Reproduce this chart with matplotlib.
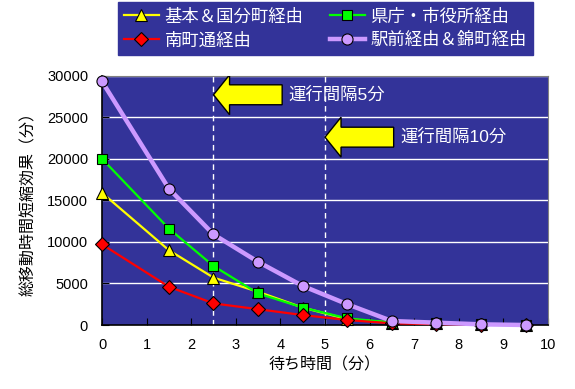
import matplotlib
matplotlib.use('Agg')
import matplotlib.pyplot as plt
from matplotlib.patches import FancyArrow

plt.rcParams['font.family'] = ['Liberation Sans', 'Noto Sans CJK JP', 'DejaVu Sans']

# Data
wait_time = [0, 1.5, 2.5, 3.5, 4.5, 5.5, 6.5, 7.5, 8.5, 9.5]
labels = ['基本＆国分町経由', '南町通経由', '県庁・市役所経由', '駅前経由＆錦町経由']
kihon = [15900, 9000, 5700, 4000, 2100, 700, 300, 200, 100, 30]
minami = [9700, 4600, 2600, 1900, 1200, 600, 200, 100, 50, 10]
kencho = [20000, 11600, 7100, 3800, 2100, 800, 300, 200, 100, 30]
ekimae = [29300, 16400, 10900, 7600, 4700, 2500, 480, 280, 80, 0]
intervals = [2.5, 5.0]
interval_texts = ['運行間隔5分', '運行間隔10分']
arrow_y = [27700, 22600]

NAVY = '#333399'

fig = plt.figure(figsize=(5.75, 3.89), dpi=100)
ax = fig.add_axes([0.1774, 0.1645, 0.7756, 0.641])
ax.set_facecolor(NAVY)

series = [
    (kihon, '#FFFF00', '^', 1.6, 8, 3),
    (minami, '#FF0000', 'D', 1.6, 7, 5),
    (kencho, '#00FF00', 's', 1.6, 7.5, 4),
    (ekimae, '#CC99FF', 'o', 3.2, 8, 6),
]
handles = []
for (vals, clr, mk, lw, ms, z), lab in zip(series, labels):
    h, = ax.plot(wait_time, vals, color=clr, linewidth=lw, marker=mk,
                 markersize=ms, markerfacecolor=clr, markeredgecolor='black',
                 markeredgewidth=0.8, zorder=z, label=lab, clip_on=False)
    handles.append(h)

# Grid and dashed interval lines
for yv in range(5000, 30001, 5000):
    ax.axhline(yv, color='white', linewidth=1, zorder=1)
for xv in intervals:
    ax.axvline(xv, color='white', linewidth=1, linestyle=(0, (4, 3)), zorder=1)

# Block arrows with labels
for xv, yv, txt in zip(intervals, arrow_y, interval_texts):
    arr = FancyArrow(xv + 1.54, yv, -1.54, 0, width=2400, head_width=4800,
                     head_length=0.36, length_includes_head=True,
                     facecolor='#FFFF00', edgecolor='black', linewidth=1, zorder=7)
    ax.add_patch(arr)
    ax.text(xv + 1.68, yv, txt, color='white', fontsize=12.5, va='center',
            ha='left', zorder=8)

ax.set_xlim(0, 10)
ax.set_ylim(0, 30000)
ax.set_xticks(range(0, 11))
ax.set_yticks(range(0, 30001, 5000))
ax.tick_params(direction='in', length=5, colors='black', labelsize=10.5,
               pad=9)
ax.tick_params(axis='y', pad=10)
for s in ['left', 'bottom']:
    ax.spines[s].set_color('black')
    ax.spines[s].set_linewidth(1.2)
for s in ['top', 'right']:
    ax.spines[s].set_color('#808080')

ax.set_xlabel('待ち時間（分）', fontsize=11.5, labelpad=4)
ax.set_ylabel('総移動時間短縮効果（分）', fontsize=11.5, labelpad=8)

leg = fig.legend(handles=handles, loc='center', bbox_to_anchor=(0.566, 0.927),
                 ncol=2, fontsize=12.5, frameon=True, fancybox=False,
                 handlelength=2.0, columnspacing=1.5, handletextpad=0.35,
                 borderpad=0.35, labelspacing=0.45)
leg.get_frame().set_facecolor(NAVY)
leg.get_frame().set_edgecolor(NAVY)
leg.get_frame().set_alpha(1)
for t in leg.get_texts():
    t.set_color('white')

fig.savefig('out.png', dpi=100)
